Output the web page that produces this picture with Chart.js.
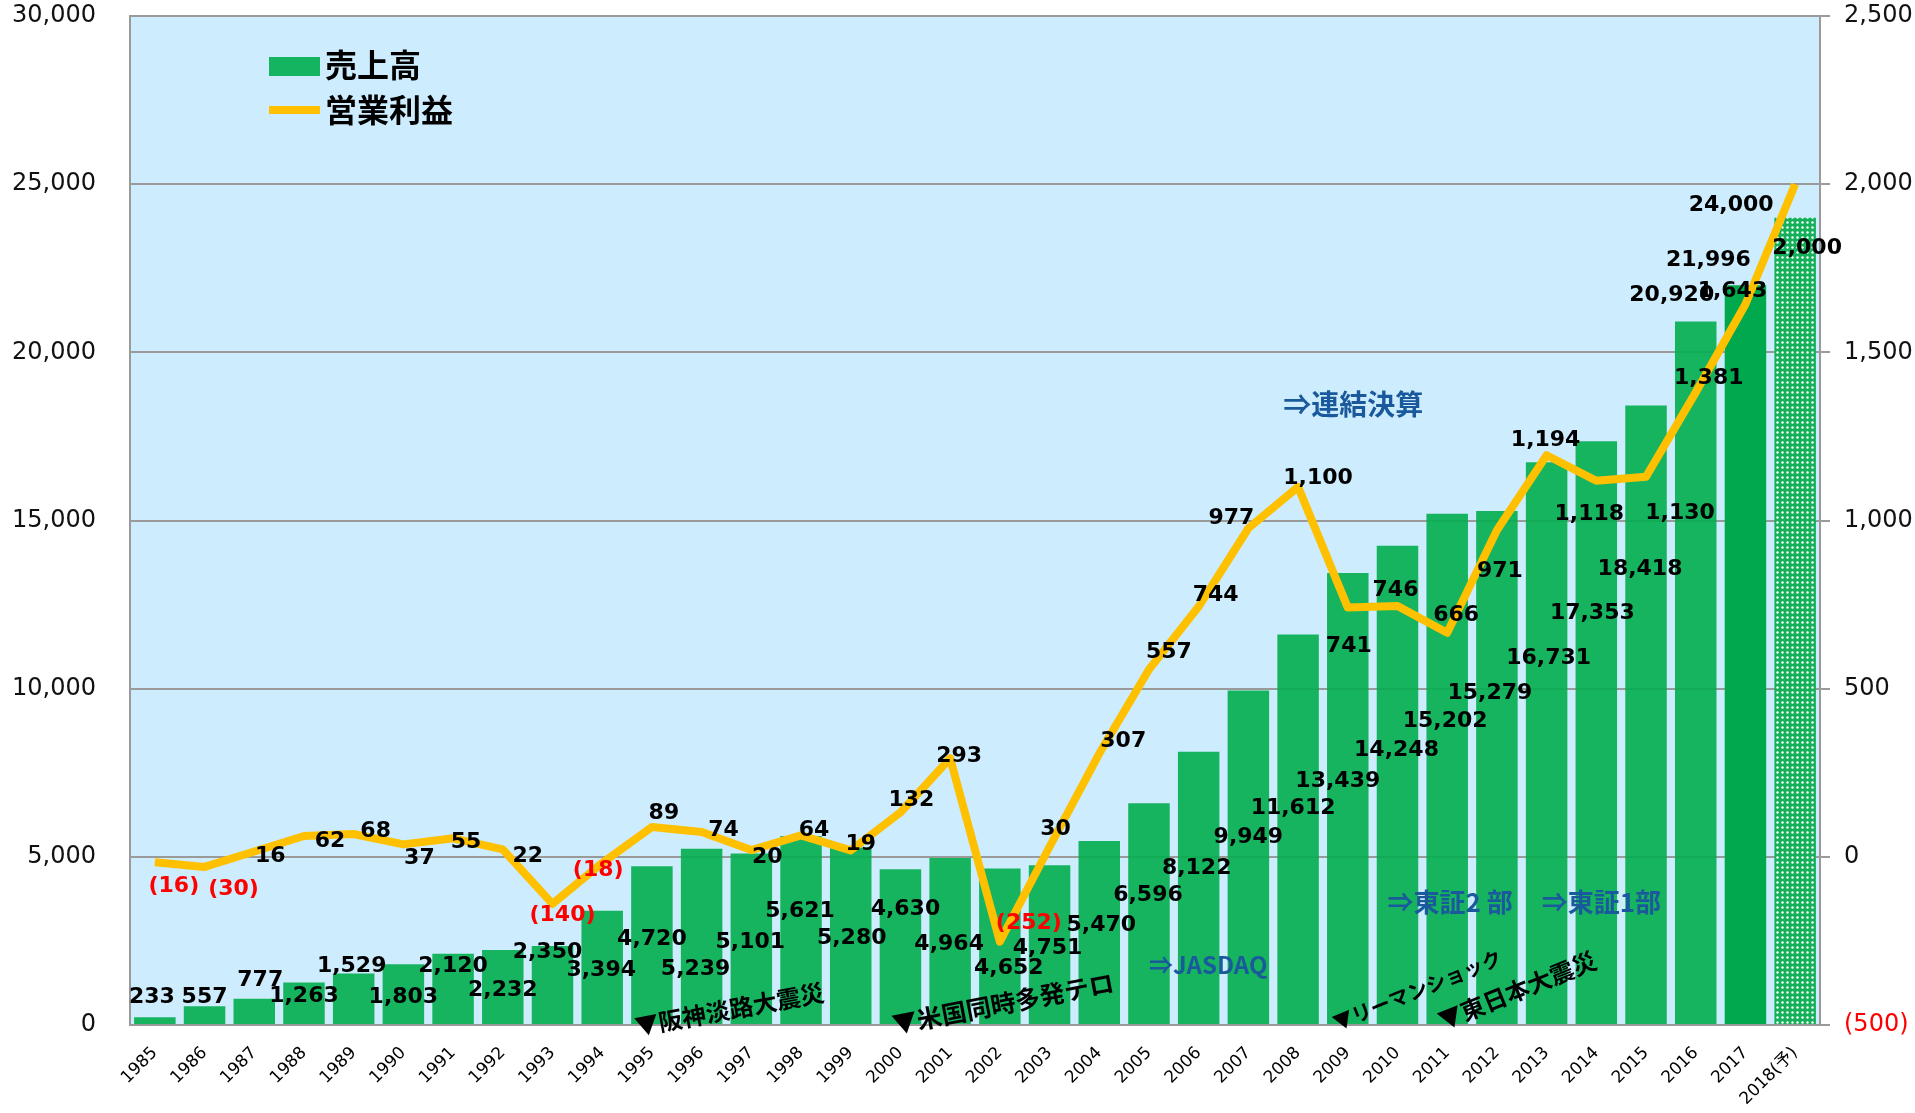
<!DOCTYPE html>
<html lang="ja">
<head>
<meta charset="utf-8">
<title>売上高・営業利益の推移</title>
<script src="https://cdn.jsdelivr.net/npm/chart.js@4.4.1/dist/chart.umd.min.js"></script>
<style>
    html, body { margin: 0; padding: 0; background: #fff; }
    #wrap { width: 1915px; height: 1113px; }
</style>
</head>
<body>
<div id="wrap"><canvas id="salesChart" width="1915" height="1113"></canvas></div>
<script>
// Data
const years = ['1985', '1986', '1987', '1988', '1989', '1990', '1991', '1992', '1993', '1994',
    '1995', '1996', '1997', '1998', '1999', '2000', '2001', '2002', '2003', '2004',
    '2005', '2006', '2007', '2008', '2009', '2010', '2011', '2012', '2013', '2014',
    '2015', '2016', '2017', '2018(予)'];
const sales = [233, 557, 777, 1263, 1529, 1803, 2120, 2232, 2350, 3394,
    4720, 5239, 5101, 5621, 5280, 4630, 4964, 4652, 4751, 5470,
    6596, 8122, 9949, 11612, 13439, 14248, 15202, 15279, 16731, 17353,
    18418, 20920, 21996, 24000];
const profit = [-16, -30, 16, 62, 68, 37, 55, 22, -140, -18,
    89, 74, 20, 64, 19, 132, 293, -252, 30, 307,
    557, 744, 977, 1100, 741, 746, 666, 971, 1194, 1118,
    1130, 1381, 1643, 2000];
const salesTicks = [0, 5000, 10000, 15000, 20000, 25000, 30000];
const profitTicks = [-500, 0, 500, 1000, 1500, 2000, 2500];

// Label nudges (px from the bar top / line point), as laid out in the original
const salesLabelOffset = [
    [-3, -20], [0, -9], [6, -19], [0, 14], [-2, -7], [0, 33], [0, 13], [0, 40], [-5, 6], [-1, 59],
    [0, 73], [-6, 120], [-1, 89], [-1, 75], [1, 91], [5, 40], [-1, 86], [9, 100], [-2, 83], [2, 84],
    [-1, 92], [-2, 116], [0, 147], [-5, 174], [-10, 208], [-1, 204], [-2, 208], [-7, 182], [2, 196], [-4, 172],
    [-6, 164], [-24, -26], [-37, -25], [-64, -13]
];
const profitLabelOffset = [
    [19, 24], [29, 22], [16, 5], [26, 5], [22, -3], [16, 14], [13, 4], [25, 7], [10, 11], [-4, 7],
    [12, -14], [22, -2], [16, 7], [13, -5], [10, -6], [11, -12], [9, -2], [29, -18], [6, -17], [24, -12],
    [20, -17], [17, -11], [-17, -10], [20, -9], [1, 39], [-2, -16], [9, -18], [3, 41], [-1, -15], [-7, 33],
    [34, 37], [13, -14], [-13, -13], [12, 64]
];

// Notes inside the plot: category position, value on the left axis
const notes = [
    { text: '⇒連結決算', at: 22.7, value: 18450, size: 28, color: '#1a5a9c', angle: 0 },
    { text: '⇒JASDAQ', at: 20.0, value: 1800, size: 24, color: '#1a5a9c', angle: 0 },
    { text: '⇒東証2 部', at: 24.8, value: 3650, size: 26, color: '#1a5a9c', angle: 0 },
    { text: '⇒東証1部', at: 27.9, value: 3650, size: 26, color: '#1a5a9c', angle: 0 },
    { text: '▼阪神淡路大震災', at: 9.66, value: -60, size: 24, color: '#000', angle: 10.5 },
    { text: '▼米国同時多発テロ', at: 14.84, value: 0, size: 25, color: '#000', angle: 11 },
    { text: '▼リーマンショック', at: 23.72, value: 30, size: 20, color: '#000', angle: 22 },
    { text: '▼東日本大震災', at: 25.84, value: 90, size: 24, color: '#000', angle: 22 }
];

const BAR_GREEN = 'rgba(2, 174, 78, 0.9)';
const BAR_DARK = '#00a94e';
const LINE_ORANGE = '#ffc000';
const PLOT_BG = '#cdecfd';
const GRID_GRAY = '#9a9a9a';
const NEG_RED = '#ff0000';
const CJK = '"Noto Sans CJK JP", sans-serif';

function fmt(v) {
    const s = Math.abs(v).toLocaleString('en-US');
    return v < 0 ? '(' + s + ')' : s;
}

// dotted fill for the forecast bar
function makeDots() {
    const c = document.createElement('canvas');
    c.width = 5;
    c.height = 5;
    const g = c.getContext('2d');
    g.fillStyle = '#14b05a';
    g.fillRect(0, 0, 5, 5);
    g.fillStyle = '#ffffff';
    g.beginPath();
    g.arc(2.5, 2.5, 1.2, 0, Math.PI * 2);
    g.fill();
    return g.createPattern(c, 'repeat');
}
const dotPattern = makeDots();

// no extra room for overhanging tick labels
function noPad(scale) {
    scale.paddingTop = 0;
    scale.paddingBottom = 0;
    scale.paddingLeft = 0;
    scale.paddingRight = 0;
}

// Plot background
const plotBackground = {
    id: 'plotBackground',
    beforeDraw(chart) {
        const { ctx, chartArea: a } = chart;
        ctx.save();
        ctx.fillStyle = PLOT_BG;
        ctx.fillRect(a.left, a.top, a.right - a.left, a.bottom - a.top);
        ctx.restore();
    }
};

// Value labels
const valueLabels = {
    id: 'valueLabels',
    afterDatasetsDraw(chart) {
        const ctx = chart.ctx;
        ctx.save();
        ctx.font = 'bold 22px "DejaVu Sans", sans-serif';
        ctx.textAlign = 'center';
        ctx.textBaseline = 'middle';
        chart.getDatasetMeta(0).data.forEach((bar, i) => {
            const [dx, dy] = salesLabelOffset[i];
            ctx.fillStyle = sales[i] < 0 ? NEG_RED : '#000';
            ctx.fillText(fmt(sales[i]), bar.x + dx, bar.y + dy);
        });
        chart.getDatasetMeta(1).data.forEach((pt, i) => {
            const [dx, dy] = profitLabelOffset[i];
            ctx.fillStyle = profit[i] < 0 ? NEG_RED : '#000';
            ctx.fillText(fmt(profit[i]), pt.x + dx, pt.y + dy);
        });
        ctx.restore();
    }
};

// Notes and legend
const notesAndLegend = {
    id: 'notesAndLegend',
    afterDraw(chart) {
        const ctx = chart.ctx;
        const x = chart.scales.x;
        const y = chart.scales.y;
        ctx.save();
        notes.forEach(n => {
            ctx.save();
            ctx.translate(x.getPixelForValue(n.at), y.getPixelForValue(n.value));
            ctx.rotate(-n.angle * Math.PI / 180);
            ctx.font = 'bold ' + n.size + 'px ' + CJK;
            ctx.fillStyle = n.color;
            ctx.textAlign = 'left';
            ctx.textBaseline = 'middle';
            ctx.fillText(n.text, 0, 0);
            ctx.restore();
        });

        const ds = chart.data.datasets;
        ctx.font = 'bold 32px ' + CJK;
        ctx.textAlign = 'left';
        ctx.textBaseline = 'middle';
        ctx.fillStyle = '#14b460';
        ctx.fillRect(269, 57, 51, 19);
        ctx.fillStyle = '#000';
        ctx.fillText(ds[0].label, 325, 65);
        ctx.strokeStyle = ds[1].borderColor;
        ctx.lineWidth = 8;
        ctx.beginPath();
        ctx.moveTo(269, 110);
        ctx.lineTo(320, 110);
        ctx.stroke();
        ctx.fillText(ds[1].label, 325, 110);
        ctx.restore();
    }
};

Chart.defaults.font.family = '"DejaVu Sans", "Noto Sans CJK JP", sans-serif';
Chart.defaults.color = '#000';

new Chart(document.getElementById('salesChart'), {
    data: {
        labels: years,
        datasets: [{
            type: 'bar',
            label: '売上高',
            data: sales,
            yAxisID: 'y',
            order: 2,
            backgroundColor: (c) => c.dataIndex === years.length - 1 ? dotPattern
                : (c.dataIndex === years.length - 2 ? BAR_DARK : BAR_GREEN),
            borderWidth: 0,
            barPercentage: 0.835,
            categoryPercentage: 1.0
        }, {
            type: 'line',
            label: '営業利益',
            data: profit,
            yAxisID: 'y1',
            order: 1,
            borderColor: LINE_ORANGE,
            borderWidth: 8,
            borderJoinStyle: 'round',
            borderCapStyle: 'butt',
            pointRadius: 0,
            tension: 0,
            fill: false
        }]
    },
    options: {
        responsive: false,
        animation: false,
        layout: { padding: { top: 16, left: 0, right: 0, bottom: 0 } },
        plugins: {
            legend: { display: false },
            tooltip: { enabled: false }
        },
        scales: {
            x: {
                offset: true,
                grid: { display: false, drawTicks: false },
                border: { display: false },
                ticks: {
                    autoSkip: false,
                    maxRotation: 45,
                    minRotation: 45,
                    padding: 18,
                    font: { size: 17 },
                    color: '#000'
                },
                afterFit(scale) { scale.height = 88; noPad(scale); }
            },
            y: {
                position: 'left',
                min: 0,
                max: 30000,
                afterBuildTicks(scale) { scale.ticks = salesTicks.map(v => ({ value: v })); },
                grid: { color: GRID_GRAY, lineWidth: 2, drawTicks: false },
                border: { display: true, color: GRID_GRAY, width: 2 },
                ticks: {
                    padding: 34,
                    font: { size: 24 },
                    color: '#111',
                    callback: (v) => fmt(v)
                },
                afterFit(scale) { scale.width = 130; noPad(scale); }
            },
            y1: {
                position: 'right',
                min: -500,
                max: 2500,
                afterBuildTicks(scale) { scale.ticks = profitTicks.map(v => ({ value: v })); },
                grid: { drawOnChartArea: false, color: GRID_GRAY, lineWidth: 2, tickLength: 10 },
                border: { display: true, color: GRID_GRAY, width: 2 },
                ticks: {
                    padding: 14,
                    font: { size: 24 },
                    color: (c) => c.tick && c.tick.value < 0 ? NEG_RED : '#111',
                    callback: (v) => fmt(v)
                },
                afterFit(scale) { scale.width = 95; noPad(scale); }
            }
        }
    },
    plugins: [plotBackground, valueLabels, notesAndLegend]
});
</script>
</body>
</html>
